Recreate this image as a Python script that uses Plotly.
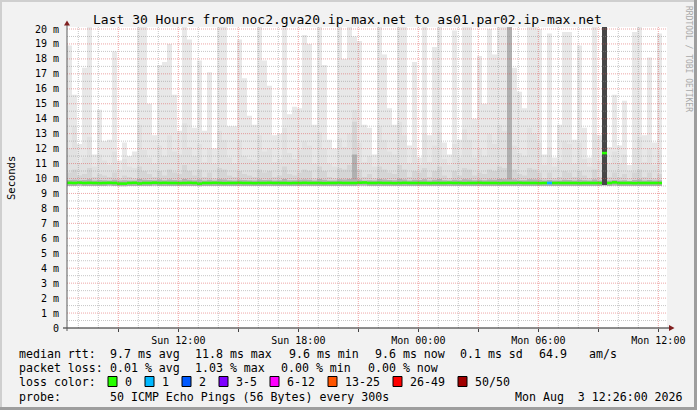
import plotly.graph_objects as go
import pandas as pd

# ---------------- data ----------------
start_time = "2026-08-02 06:26"
end_time = "2026-08-03 12:26"
step_minutes = 15

# highest ping per 15-minute step (ms, light smoke top)
smoke_max = [
    18.9, 15.6, 12.3, 17.4, 20.5, 11.6, 14.6, 12.5, 12.6, 18.5,
    11.2, 12.4, 11.5, 11.8, 20.5, 20.5, 15.0, 12.9, 17.6, 17.8,
    19.0, 15.6, 13.2, 20.5, 19.3, 13.4, 17.9, 13.2, 17.1, 12.0,
    20.5, 20.5, 13.5, 13.5, 19.3, 16.7, 14.2, 13.6, 20.5, 17.9,
    16.2, 12.9, 13.0, 20.5, 14.3, 14.8, 14.7, 19.6, 19.0, 13.6,
    20.5, 17.6, 12.6, 12.0, 20.5, 18.0, 20.5, 19.5, 19.2, 13.6,
    13.4, 11.6, 20.5, 18.3, 14.7, 13.6, 20.5, 20.5, 12.2, 17.8,
    11.4, 20.5, 12.9, 18.8, 20.5, 12.4, 11.6, 19.9, 12.6, 20.5,
    20.5, 14.0, 18.2, 15.0, 20.0, 18.3, 20.5, 20.5, 20.0, 17.4,
    15.8, 14.7, 20.5, 20.5, 20.0, 11.6, 19.7, 11.4, 13.6, 19.8,
    19.8, 12.6, 18.9, 13.4, 11.4, 20.5, 12.9, 19.0, 12.1, 15.6,
    12.2, 15.2, 10.9, 19.8, 20.5, 12.9, 18.1, 12.4, 19.7,
]
# upper percentile smoke top
smoke_p90 = [
    12.0, 13.5, 11.0, 11.4, 12.8, 10.8, 11.6, 11.2, 10.9, 11.8,
    10.6, 11.3, 10.8, 10.7, 13.6, 11.9, 11.4, 11.0, 12.2, 11.5,
    12.9, 11.8, 11.6, 13.7, 12.1, 11.5, 12.3, 11.1, 12.0, 11.0,
    13.2, 12.6, 11.4, 11.0, 12.6, 11.5, 11.3, 11.2, 12.9, 11.8,
    12.0, 11.1, 11.3, 13.4, 11.7, 11.3, 11.9, 12.5, 12.2, 11.0,
    13.1, 12.0, 11.0, 10.8, 12.7, 12.1, 13.0, 14.6, 12.4, 11.1,
    11.5, 10.8, 13.5, 12.6, 11.8, 11.6, 13.8, 12.9, 11.0, 12.0,
    10.9, 13.0, 11.1, 12.2, 13.1, 11.3, 10.9, 12.3, 11.4, 13.3,
    12.6, 11.4, 12.0, 11.5, 13.0, 12.3, 13.6, 13.2, 13.8, 12.2,
    11.7, 11.5, 13.4, 13.0, 12.4, 10.9, 12.1, 10.8, 11.2, 12.5,
    12.3, 11.0, 12.4, 11.3, 10.8, 13.0, 11.2, 13.6, 11.0, 11.8,
    11.0, 11.6, 10.5, 12.0, 12.8, 11.1, 12.0, 10.9, 11.9,
]
# mid percentile smoke top
smoke_p75 = [
    10.4, 10.6, 10.2, 10.3, 10.7, 10.1, 10.3, 10.2, 10.1, 10.4,
    10.0, 10.2, 10.1, 10.0, 10.8, 10.5, 10.3, 10.1, 10.5, 10.2,
    10.6, 10.4, 10.3, 10.9, 10.5, 10.2, 10.6, 10.1, 10.4, 10.0,
    10.7, 10.6, 10.2, 10.1, 10.5, 10.3, 10.2, 10.1, 10.6, 10.4,
    10.5, 10.1, 10.2, 10.8, 10.3, 10.2, 10.4, 10.6, 10.5, 10.0,
    10.8, 10.5, 10.1, 10.0, 10.7, 10.6, 10.9, 13.8, 10.6, 10.1,
    10.3, 10.0, 10.8, 10.6, 10.4, 10.3, 10.9, 10.6, 10.1, 10.5,
    10.4, 10.7, 10.1, 10.5, 10.8, 10.2, 10.0, 10.5, 10.2, 10.7,
    10.6, 10.2, 10.4, 10.3, 10.6, 10.5, 10.8, 10.7, 10.9, 10.6,
    10.3, 10.2, 10.7, 10.6, 10.4, 10.0, 10.4, 10.0, 10.1, 10.5,
    10.4, 10.1, 10.5, 10.2, 10.0, 10.6, 10.1, 12.5, 10.1, 10.4,
    10.1, 10.3, 9.95, 10.4, 10.6, 10.1, 10.4, 10.0, 10.3,
]
# dense smoke core just above the median
smoke_core = [
    9.90, 9.92, 9.88, 9.90, 9.95, 9.87, 9.90, 9.88, 9.87, 9.92,
    9.86, 9.88, 9.87, 9.86, 9.96, 9.92, 9.90, 9.88, 9.93, 9.89,
    9.94, 9.90, 9.89, 9.97, 9.92, 9.88, 9.93, 9.87, 9.91, 9.86,
    9.95, 9.93, 9.88, 9.87, 9.92, 9.90, 9.88, 9.87, 9.94, 9.90,
    9.92, 9.87, 9.88, 9.96, 9.89, 9.88, 9.91, 9.93, 9.92, 9.86,
    9.96, 9.92, 9.87, 9.86, 9.95, 9.93, 9.97, 11.6, 9.93, 9.87,
    9.89, 9.86, 9.96, 9.93, 9.90, 9.89, 9.98, 9.93, 9.87, 9.92,
    9.90, 9.95, 9.87, 9.92, 9.96, 9.88, 9.86, 9.92, 9.88, 9.95,
    9.93, 9.88, 9.91, 9.89, 9.94, 9.92, 9.96, 9.95, 20.5, 9.93,
    9.89, 9.88, 9.95, 9.93, 9.91, 9.86, 9.90, 9.86, 9.87, 9.92,
    9.90, 9.87, 9.92, 9.88, 9.86, 9.93, 9.87, 10.6, 9.87, 9.90,
    9.87, 9.89, 9.84, 9.90, 9.93, 9.87, 9.90, 9.86, 9.89,
]
# steps where all pings are spread wide (darkest smoke)
smoke_dark = [
    0, 0, 0, 0, 0, 0, 0, 0, 0, 0,
    0, 0, 0, 0, 0, 0, 0, 0, 0, 0,
    0, 0, 0, 0, 0, 0, 0, 0, 0, 0,
    0, 0, 0, 0, 0, 0, 0, 0, 0, 0,
    0, 0, 0, 0, 0, 0, 0, 0, 0, 0,
    0, 0, 0, 0, 0, 0, 0, 0, 0, 0,
    0, 0, 0, 0, 0, 0, 0, 0, 0, 0,
    0, 0, 0, 0, 0, 0, 0, 0, 0, 0,
    0, 0, 0, 0, 0, 0, 0, 0, 0, 0,
    0, 0, 0, 0, 0, 0, 0, 0, 0, 0,
    0, 0, 0, 0, 0, 0, 0, 20.5, 0, 0,
    0, 0, 0, 0, 0, 0, 0, 0, 0,
]
# median round trip time
median_rtt = [
    9.71, 9.70, 9.72, 9.70, 9.71, 9.70, 9.69, 9.70, 9.71, 9.70,
    9.66, 9.66, 9.70, 9.71, 9.67, 9.70, 9.70, 9.72, 9.70, 9.71,
    9.70, 9.70, 9.69, 9.70, 9.71, 9.70, 9.66, 9.70, 9.70, 9.71,
    9.70, 9.69, 9.70, 9.70, 9.71, 9.70, 9.70, 9.69, 9.70, 9.70,
    9.71, 9.70, 9.70, 9.70, 9.69, 9.70, 9.70, 9.71, 9.70, 9.70,
    9.70, 9.69, 9.70, 9.70, 9.71, 9.70, 9.70, 9.70, 9.72, 9.73,
    9.70, 9.70, 9.71, 9.70, 9.70, 9.69, 9.70, 9.71, 9.70, 9.70,
    9.70, 9.70, 9.69, 9.70, 9.70, 9.70, 9.71, 9.70, 9.70, 9.69,
    9.70, 9.70, 9.71, 9.70, 9.70, 9.70, 9.69, 9.70, 9.70, 9.70,
    9.71, 9.70, 9.70, 9.70, 9.69, 9.70, 9.70, 9.70, 9.70, 9.70,
    9.70, 9.70, 9.69, 9.70, 9.70, 9.70, 9.70, 11.70, 9.70, 9.74,
    9.70, 9.70, 9.70, 9.69, 9.70, 9.70, 9.70, 9.70, 9.70,
]
# lowest ping (bottom edge of the smoke)
ping_min = [
    9.50, 9.50, 9.51, 9.50, 9.49, 9.50, 9.50, 9.50, 9.51, 9.50,
    9.48, 9.48, 9.50, 9.50, 9.49, 9.50, 9.50, 9.51, 9.50, 9.50,
    9.50, 9.50, 9.49, 9.50, 9.50, 9.50, 9.48, 9.50, 9.50, 9.50,
    9.50, 9.49, 9.50, 9.50, 9.50, 9.50, 9.50, 9.49, 9.50, 9.50,
    9.50, 9.50, 9.50, 9.50, 9.49, 9.50, 9.50, 9.50, 9.50, 9.50,
    9.50, 9.49, 9.50, 9.50, 9.50, 9.50, 9.50, 9.50, 9.51, 9.51,
    9.50, 9.50, 9.50, 9.50, 9.50, 9.49, 9.50, 9.50, 9.50, 9.50,
    9.50, 9.50, 9.49, 9.50, 9.50, 9.50, 9.50, 9.50, 9.50, 9.49,
    9.50, 9.50, 9.50, 9.50, 9.50, 9.50, 9.49, 9.50, 9.50, 9.50,
    9.50, 9.50, 9.50, 9.50, 9.49, 9.50, 9.50, 9.50, 9.50, 9.50,
    9.50, 9.50, 9.49, 9.50, 9.50, 9.50, 9.50, 9.55, 9.50, 9.52,
    9.50, 9.50, 9.50, 9.49, 9.50, 9.50, 9.50, 9.50, 9.50,
]
# lost pings per step (of 50)
lost_pings = [
    0, 0, 0, 0, 0, 0, 0, 0, 0, 0,
    0, 0, 0, 0, 0, 0, 0, 0, 0, 0,
    0, 0, 0, 0, 0, 0, 0, 0, 0, 0,
    0, 0, 0, 0, 0, 0, 0, 0, 0, 0,
    0, 0, 0, 0, 0, 0, 0, 0, 0, 0,
    0, 0, 0, 0, 0, 0, 0, 0, 0, 0,
    0, 0, 0, 0, 0, 0, 0, 0, 0, 0,
    0, 0, 0, 0, 0, 0, 0, 0, 0, 0,
    0, 0, 0, 0, 0, 0, 0, 0, 0, 0,
    0, 0, 0, 0, 0, 0, 1, 0, 0, 0,
    0, 0, 0, 0, 0, 0, 0, 0, 0, 0,
    0, 0, 0, 0, 0, 0, 0, 0, 0,
]

y_tick_values = [0, 1, 2, 3, 4, 5, 6, 7, 8, 9, 10, 11, 12, 13, 14, 15, 16, 17, 18, 19, 20]
y_tick_labels = ["0", "1 m", "2 m", "3 m", "4 m", "5 m", "6 m", "7 m", "8 m", "9 m", "10 m",
                 "11 m", "12 m", "13 m", "14 m", "15 m", "16 m", "17 m", "18 m", "19 m", "20 m"]

loss_labels = ["0", "1", "2", "3-5", "6-12", "13-25", "26-49", "50/50"]
loss_colors = ["#26ff00", "#00b8ff", "#0059ff", "#7e00ff", "#ff00ff", "#ff5500", "#ff0000", "#a10000"]

title_text = "Last 30 Hours from noc2.gva20.ip-max.net to as01.par02.ip-max.net"

# ---------------- geometry helpers ----------------
W, H = 697, 410
ML, MR, MT, MB = 67, 30, 27, 82
PW, PH = W - ML - MR, H - MT - MB


def X(px):
    return (px - ML) / PW


def Y(py):
    return (H - MB - py) / PH


NB = "\u00a0"
MONO = "DejaVu Sans Mono"

t0 = pd.Timestamp(start_time)
n = len(smoke_max)
edges = [t0 + pd.Timedelta(minutes=step_minutes * i) for i in range(n + 1)]


def stepped(vals):
    return list(vals) + [vals[-1]]


fig = go.Figure()

layers = [
    (smoke_max, "#e8e8e8"),
    (smoke_p90, "#e1e1e1"),
    (smoke_p75, "#d5d5d5"),
    (smoke_core, "#b0b0b0"),
    (smoke_dark, "#474747"),
    (ping_min, "#ffffff"),
]
for vals, col in layers:
    fig.add_trace(go.Scatter(
        x=edges, y=stepped(vals), mode="lines",
        line=dict(width=0, shape="hv"), fill="tozeroy", fillcolor=col,
        hoverinfo="skip", showlegend=False))

# median drawn as one flat segment per step, coloured by packet loss
seg = {}
for i, (m, lost) in enumerate(zip(median_rtt, lost_pings)):
    c = loss_colors[min(lost, 1)]
    xs, ys = seg.setdefault(c, ([], []))
    xs += [edges[i], edges[i + 1], None]
    ys += [m, m, None]
for c, (xs, ys) in seg.items():
    fig.add_trace(go.Scatter(x=xs, y=ys, mode="lines", line=dict(color=c, width=2.6),
                             hoverinfo="skip", showlegend=False))

# ---------------- grid (drawn over the smoke, like rrdtool, semi-transparent) ----------------
shapes = []
major_x = pd.date_range("2026-08-02 09:00", "2026-08-03 12:00", freq="3h")
minor_x = [t for t in pd.date_range("2026-08-02 07:00", "2026-08-03 12:00", freq="1h") if t.hour % 3 != 0]
GRID_MINOR = "rgba(143,143,143,0.5)"
GRID_MAJOR = "rgba(222,79,79,0.5)"
for t in minor_x:
    shapes.append(dict(type="line", xref="x", yref="paper", x0=t, x1=t, y0=0, y1=1,
                       line=dict(color=GRID_MINOR, width=1, dash="1px,1px"), layer="above"))
for v in [k + 0.5 for k in range(20)]:
    shapes.append(dict(type="line", xref="paper", yref="y", x0=0, x1=1, y0=v, y1=v,
                       line=dict(color=GRID_MINOR, width=1, dash="1px,1px"), layer="above"))
for t in major_x:
    shapes.append(dict(type="line", xref="x", yref="paper", x0=t, x1=t, y0=0, y1=1,
                       line=dict(color=GRID_MAJOR, width=1, dash="1px,1px"), layer="above"))
for v in y_tick_values[1:]:
    shapes.append(dict(type="line", xref="paper", yref="y", x0=0, x1=1, y0=v, y1=v,
                       line=dict(color=GRID_MAJOR, width=1, dash="1px,1px"), layer="above"))

# axes with arrows
shapes.append(dict(type="line", xref="paper", yref="paper", x0=X(63), x1=X(669), y0=0, y1=0,
                   line=dict(color="#1f1f1f", width=1), layer="above"))
shapes.append(dict(type="line", xref="paper", yref="paper", x0=0, x1=0, y0=Y(331), y1=Y(24),
                   line=dict(color="#5a5a5a", width=1), layer="above"))
shapes.append(dict(type="path", xref="paper", yref="paper",
                   path=f"M {X(67)} {Y(20.5)} L {X(64)} {Y(25.5)} L {X(70)} {Y(25.5)} Z",
                   fillcolor="#801f1f", line=dict(width=0), layer="above"))
shapes.append(dict(type="path", xref="paper", yref="paper",
                   path=f"M {X(674.5)} {Y(328)} L {X(669)} {Y(325)} L {X(669)} {Y(331)} Z",
                   fillcolor="#801f1f", line=dict(width=0), layer="above"))

# 3D frame
shapes += [
    dict(type="rect", xref="paper", yref="paper", x0=X(0), x1=X(W), y0=Y(0), y1=Y(2),
         fillcolor="#cfcfcf", line=dict(width=0), layer="below"),
    dict(type="rect", xref="paper", yref="paper", x0=X(0), x1=X(2), y0=Y(0), y1=Y(H),
         fillcolor="#cfcfcf", line=dict(width=0), layer="below"),
    dict(type="rect", xref="paper", yref="paper", x0=X(694), x1=X(W), y0=Y(0), y1=Y(H),
         fillcolor="#9e9e9e", line=dict(width=0), layer="below"),
    dict(type="rect", xref="paper", yref="paper", x0=X(0), x1=X(W), y0=Y(407), y1=Y(H),
         fillcolor="#9e9e9e", line=dict(width=0), layer="below"),
]

# loss colour boxes
box_left = [108, 145, 182, 219, 270, 328, 393, 458]
for bx, col in zip(box_left, loss_colors):
    shapes.append(dict(type="rect", xref="paper", yref="paper",
                       x0=X(bx), x1=X(bx + 9), y0=Y(386.5), y1=Y(376.5),
                       fillcolor=col, line=dict(color="#000000", width=1), layer="above"))

# ---------------- texts ----------------
ann = []


def txt(s, px, py, size=11.6, anchor="left", color="#000000", angle=0):
    ann.append(dict(text=s.replace(" ", NB), x=X(px), y=Y(py), xref="paper", yref="paper",
                    xanchor=anchor, yanchor="middle", showarrow=False, textangle=angle,
                    font=dict(family=MONO, size=size, color=color)))


txt(title_text, 347.5, 19.5, size=13, anchor="center")
txt("Seconds", 11, 178, size=10.5, anchor="center", angle=-90)
txt("RRDTOOL / TOBI OETIKER", 689, 59, size=8, anchor="center", color="#a9a9a9", angle=90)

row1 = 354
txt("median rtt:", 16.7, row1)
for s, px in [("9.7 ms avg", 107.7), ("11.8 ms max", 193.3), ("9.6 ms min", 287),
              ("9.6 ms now", 372.7), ("0.1 ms sd", 458.3), ("64.9", 537.3), ("am/s", 586.7)]:
    txt(s, px, row1)
row2 = 368.3
txt("packet loss:", 16.7, row2)
for s, px in [("0.01 % avg", 107.7), ("1.03 % max", 193.3), ("0.00 % min", 279), ("0.00 % now", 365.5)]:
    txt(s, px, row2)
row3 = 382
txt("loss color:", 16.7, row3)
for bx, lab in zip(box_left, loss_labels):
    txt(lab, bx + 15, row3)
row4 = 396.5
txt("probe:", 16.7, row4)
txt("50 ICMP Echo Pings (56 Bytes) every 300s", 107.7, row4)
txt("Mon Aug  3 12:26:00 2026", 513.3, row4)

x_tick_text = [f"{t:%a} {t:%H:%M}" if t.hour % 6 == 0 else "" for t in major_x]

fig.update_layout(
    width=W, height=H,
    margin=dict(l=ML, r=MR, t=MT, b=MB, pad=0),
    paper_bgcolor="#f2f2f2", plot_bgcolor="#ffffff",
    showlegend=False,
    shapes=shapes, annotations=ann,
    font=dict(family=MONO, color="#000000"),
    xaxis=dict(type="date", range=[start_time, end_time], showgrid=False, zeroline=False,
               showline=False, tickvals=list(major_x), ticktext=x_tick_text,
               ticks="outside", ticklen=3, tickcolor="#444444",
               tickfont=dict(family=MONO, size=10, color="#000000")),
    yaxis=dict(range=[0, PH / 14.95], showgrid=False, zeroline=False, showline=False,
               tickvals=y_tick_values, ticktext=y_tick_labels,
               ticks="outside", ticklen=5, tickcolor="rgba(0,0,0,0)",
               tickfont=dict(family=MONO, size=10, color="#000000")),
)

fig.write_html("out.html", config={"displayModeBar": False, "staticPlot": True},
               post_script="document.body.style.margin='0px';document.body.style.padding='0px';"
                           "document.body.style.overflow='hidden';")
